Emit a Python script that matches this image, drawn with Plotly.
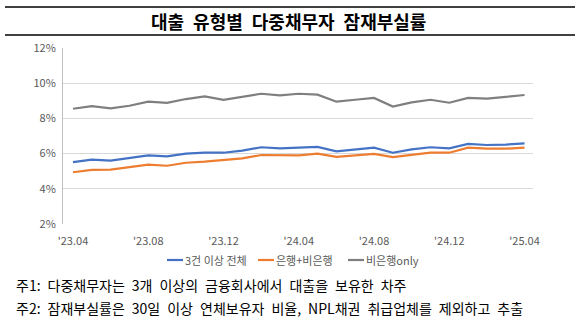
import plotly.graph_objects as go

months = ["'23.04","'23.05","'23.06","'23.07","'23.08","'23.09","'23.10","'23.11","'23.12",
          "'24.01","'24.02","'24.03","'24.04","'24.05","'24.06","'24.07","'24.08","'24.09",
          "'24.10","'24.11","'24.12","'25.01","'25.02","'25.03","'25.04"]
tick_labels = ["'23.04","'23.08","'23.12","'24.04","'24.08","'24.12","'25.04"]

total3 = [5.52,5.66,5.60,5.75,5.90,5.84,6.00,6.05,6.05,6.17,6.36,6.30,6.34,
          6.38,6.13,6.24,6.34,6.05,6.24,6.36,6.30,6.55,6.49,6.51,6.58]
bank_nonbank = [4.94,5.07,5.09,5.24,5.37,5.31,5.48,5.54,5.64,5.73,5.92,5.90,5.90,
                6.00,5.81,5.90,5.98,5.80,5.94,6.05,6.05,6.34,6.28,6.28,6.34]
nonbank_only = [8.55,8.70,8.57,8.72,8.95,8.88,9.10,9.25,9.05,9.22,9.40,9.31,9.40,
                9.35,8.95,9.06,9.16,8.67,8.91,9.06,8.89,9.16,9.12,9.22,9.33]

names = ["3건 이상 전체", "은행+비은행", "비은행only"]
colors = ["#4472C4", "#ED7D31", "#7F7F7F"]
series = [total3, bank_nonbank, nonbank_only]

title = "대출 유형별 다중채무자 잠재부실률"
notes = ["주1: 다중채무자는 3개 이상의 금융회사에서 대출을 보유한 차주",
         "주2: 잠재부실률은 30일 이상 연체보유자 비율, NPL채권 취급업체를 제외하고 추출"]

FONT = "Noto Sans CJK KR"
PW, PH, PB, PL = 470, 176, 224, 63
WIDE = "\u2002"

def px(x):
    return (x - PL) / PW

def py(y):
    return (PB - y) / PH

fig = go.Figure()
for nm, c, s in zip(names, colors, series):
    fig.add_trace(go.Scatter(x=list(range(len(months))), y=s, name=nm, mode="lines",
                             line=dict(color=c, width=2.2), showlegend=False))

tickvals = [months.index(t) for t in tick_labels]

fig.update_layout(
    width=580, height=334,
    margin=dict(l=63, r=47, t=48, b=110),
    paper_bgcolor="white", plot_bgcolor="white",
    font=dict(family=FONT, size=11, color="#595959"),
    showlegend=False,
    xaxis=dict(range=[-0.53, 24.45], tickmode="array", tickvals=tickvals, ticktext=tick_labels,
               showgrid=False, zeroline=False, showline=False,
               ticks="outside", ticklen=7, tickcolor="rgba(0,0,0,0)",
               tickfont=dict(size=11, color="#595959", family=FONT)),
    yaxis=dict(range=[2, 12], tickvals=[2,4,6,8,10,12], ticktext=["2%","4%","6%","8%","10%","12%"],
               showgrid=True, gridcolor="#D9D9D9", gridwidth=1, zeroline=False,
               showline=True, linecolor="#BFBFBF", linewidth=1,
               ticks="outside", ticklen=4, tickcolor="rgba(0,0,0,0)",
               tickfont=dict(size=11, color="#595959", family=FONT)),
)

# title with top and bottom rules
for yy in (7, 35):
    fig.add_shape(type="line", xref="paper", yref="paper", x0=px(5), x1=px(575),
                  y0=py(yy), y1=py(yy), line=dict(color="black", width=1.5))
fig.add_annotation(text="<b>" + title.replace(" ", WIDE) + "</b>", xref="paper", yref="paper",
                   x=px(288), y=py(21), xanchor="center", yanchor="middle",
                   showarrow=False, font=dict(size=18, color="black", family=FONT))

# custom legend (short line samples like the reference)
leg_x = [167, 258, 348]
leg_y = 260
for nm, c, lx in zip(names, colors, leg_x):
    fig.add_shape(type="line", xref="paper", yref="paper", x0=px(lx), x1=px(lx + 16),
                  y0=py(leg_y), y1=py(leg_y), line=dict(color=c, width=2.2))
    fig.add_annotation(text=nm, xref="paper", yref="paper", x=px(lx + 16), y=py(leg_y),
                       xanchor="left", yanchor="middle", showarrow=False,
                       font=dict(size=11, color="#595959", family=FONT))

for i, n in enumerate(notes):
    fig.add_annotation(text=n.replace(" ", WIDE), xref="paper", yref="paper", x=px(14),
                       y=py(285 + 23 * i), xanchor="left", yanchor="middle", showarrow=False,
                       font=dict(size=14, color="black", family=FONT))

fig.write_html("out.html")
